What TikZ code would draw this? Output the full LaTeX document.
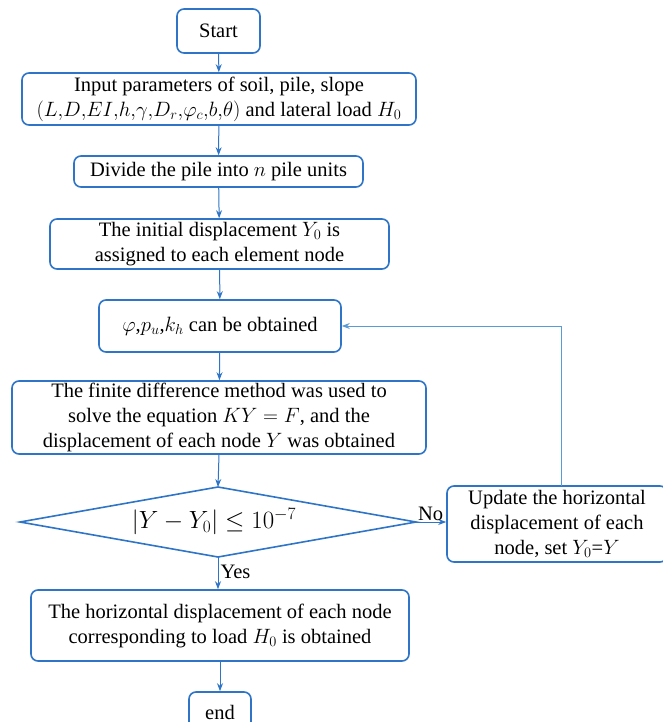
\documentclass[tikz,border=0pt]{standalone}
\usepackage{fontspec}
\setmainfont{Liberation Serif}
\usetikzlibrary{arrows.meta}
\definecolor{bord}{HTML}{2E75C8}
\definecolor{loopc}{HTML}{5B9BD5}
\begin{document}
\begin{tikzpicture}[x=1pt,y=-1pt,
  box/.style={draw=bord,line width=1.6pt,rounded corners=7pt,fill=white,align=center,inner sep=0pt,font=\fontsize{20.5}{25}\selectfont},
  arr/.style={draw=bord,line width=1pt,-{Stealth[length=8pt,width=6pt]}},
  lbl/.style={font=\fontsize{20.5}{22}\selectfont,inner sep=0pt}]
\useasboundingbox (0,0) rectangle (662,722);
\node[box,minimum width=83pt,minimum height=44pt] (start) at (218.5,31) {Start};
\node[box,minimum width=394pt,minimum height=52pt] (input) at (219,99) {Input parameters of soil, pile, slope\\$(L{,}D{,}EI{,}h{,}\gamma{,}D_r{,}\varphi_c{,}b{,}\theta)$ and lateral load $H_0$};
\node[box,minimum width=289pt,minimum height=31pt] (divide) at (218.5,171.5) {Divide the pile into $n$ pile units};
\node[box,minimum width=339pt,minimum height=50pt] (init) at (219.5,244) {The initial displacement $Y_0$ is\\assigned to each element node};
\node[box,minimum width=242pt,minimum height=52pt] (phi) at (220,326) {$\varphi$,$p_u$,$k_h$ can be obtained};
\node[box,minimum width=414pt,minimum height=73pt] (fdm) at (219,417.5) {The finite difference method was used to\\solve the equation $KY=F$, and the\\displacement of each node $Y$ was obtained};
\coordinate (dl) at (20,522);
\coordinate (dr) at (416,522);
\coordinate (dt) at (218,487);
\coordinate (db) at (218,557);
\draw[draw=bord,line width=1.6pt,fill=white] (dl) -- (dt) -- (dr) -- (db) -- cycle;
\node[lbl,font=\fontsize{23}{24}\selectfont] (cond) at (214,522) {$|Y-Y_0|\le 10^{-7}$};
\node[box,minimum width=220pt,minimum height=76pt] (upd) at (557,524) {Update the horizontal\\displacement of each\\node, set $Y_0$=$Y$};
\node[box,minimum width=378pt,minimum height=71pt] (fin) at (220,625.5) {The horizontal displacement of each node\\corresponding to load $H_0$ is obtained};
\node[box,minimum width=62pt,minimum height=40pt] (endn) at (220,712) {end};
\draw[arr] (start) -- (input);
\draw[arr] (input) -- (divide);
\draw[arr] (divide) -- (init);
\draw[arr] (init) -- (phi);
\draw[arr] (phi) -- (fdm);
\draw[arr] (fdm.south) -- (dt);
\draw[arr] (db) -- (db |- fin.north) node[lbl,pos=0.45,right=2pt] {Yes};
\draw[arr] (dr) -- (upd.west |- dr) node[lbl,pos=0.05,above=1pt,anchor=south west] {No};
\draw[draw=loopc,line width=1pt,-{Stealth[length=8pt,width=6pt]}] (561,486) |- (phi.east);
\draw[arr] (fin) -- (endn);
\end{tikzpicture}
\end{document}
